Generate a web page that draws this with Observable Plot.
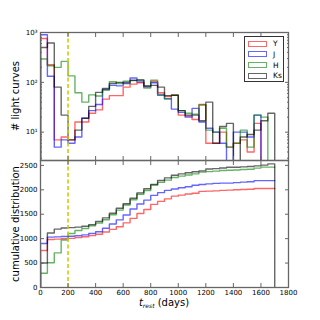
<!DOCTYPE html>
<html><head><meta charset="utf-8">
<script src="https://cdn.jsdelivr.net/npm/d3@7"></script>
<script src="https://cdn.jsdelivr.net/npm/@observablehq/plot@0.6"></script>
<style>
body{margin:0;background:#fff;}
#chart{position:relative;width:320px;height:320px;font-family:"DejaVu Sans",sans-serif;overflow:hidden;}
#chart svg{position:absolute;left:0;overflow:visible;}
.leg{position:absolute;left:244px;top:36px;width:40px;height:46px;border:1px solid #333;background:#fff;box-sizing:border-box;}
.row{position:absolute;left:2px;height:11px;width:38px;}
.patch{position:absolute;left:1px;top:2.5px;width:19px;height:6px;box-sizing:border-box;border:1.5px solid;}
.lab{position:absolute;left:26px;top:0px;font-size:7.5px;line-height:11px;color:#000;}
</style></head><body><div id="chart"></div>
<script>
// histogram bins (days), 50-day wide
const binStart = [0,50,100,150,200,250,300,350,400,450,500,550,600,650,700,750,800,850,900,950,1000,1050,1100,1150,1200,1250,1300,1350,1400,1450,1500,1550,1600,1650];
const binWidth = 50;
const bands = ["Y","J","H","Ks"];
const bandColors = ["red","blue","green","black"];
// counts per bin (# light curves)
const countsY  = [759,225,7,8,7,16,16,24,28,46,54,54,80,92,98,84,103,62,52,55,22,21,18,36,6,6,10,5,6,7,4,15,0,0];
const countsJ  = [900,132,5,7,6,8,19,27,36,72,87,85,100,122,102,81,98,55,47,29,25,20,30,16,12,10,6,0,10,10,8,22,0,0];
const countsH  = [293,215,200,263,135,62,40,56,53,70,103,95,105,108,110,77,110,57,46,55,27,24,23,35,11,10,12,5,6,11,5,22,20,0];
const countsKs = [501,615,80,22,7,11,19,33,63,75,95,100,95,110,112,85,87,80,54,55,27,22,22,17,40,6,13,15,0,8,9,11,17,24];
const xTicks = [0,200,400,600,800,1000,1200,1400,1600,1800];
const logTicks = [10,100,1000];
const logTickLabels = ["10¹","10²","10³"];
const cumTicks = [0,500,1000,1500,2000,2500];
const cutDay = 200;

const allCounts = {Y: countsY, J: countsJ, H: countsH, Ks: countsKs};
const logFloor = 1; // zero-count bins fall below the log axis and are clipped
const lastBand = bands[bands.length - 1];

function stepRows(band, values, base, closeRight) {
  const n = values.length;
  const rows = [{band, x: binStart[0], y: base}];
  values.forEach((v, i) => rows.push({band, x: binStart[i], y: v}));
  rows.push({band, x: binStart[n - 1] + binWidth, y: values[n - 1]});
  if (closeRight) rows.push({band, x: binStart[n - 1] + binWidth, y: base});
  return rows;
}
const histRows = bands.flatMap(b => stepRows(b, allCounts[b].map(v => Math.max(v, logFloor)), logFloor, true));
const cumRows = bands.flatMap(b => stepRows(b, Array.from(d3.cumsum(allCounts[b])), 0, b === lastBand));

const colorScale = {domain: bands, range: bandColors};
const spine = "#666";
const dashColor = "#cccc00";
const minorLog = [3,4,5,6,7,8,9,20,30,40,50,60,70,80,90,200,300,400,500,600,700,800,900];
const chart = document.getElementById("chart");
const common = {width: 320, height: 160, marginLeft: 40, marginRight: 32,
  style: {fontFamily: "DejaVu Sans, sans-serif", fontSize: "7px", color: "#000", background: "transparent"}};
const blank = () => "";

const topPlot = Plot.plot({
  ...common, marginTop: 32, marginBottom: 0,
  x: {domain: [0, 1800]},
  y: {type: "log", domain: [2.7, 1000]},
  color: colorScale,
  marks: [
    Plot.line(histRows, {x: "x", y: "y", z: "band", stroke: "band", curve: "step-after", strokeWidth: 1.4, strokeOpacity: 0.6, clip: true}),
    Plot.ruleX([cutDay], {stroke: dashColor, strokeWidth: 2, strokeDasharray: "4,2.5", strokeOpacity: 0.8}),
    Plot.axisX(xTicks, {anchor: "bottom", tickSize: -4, tickFormat: blank, stroke: spine, label: null}),
    Plot.axisX(xTicks, {anchor: "top", tickSize: -4, tickFormat: blank, stroke: spine, label: null}),
    Plot.axisY(logTicks, {anchor: "left", tickSize: -4, tickFormat: blank, stroke: spine, label: null}),
    Plot.axisY(logTicks, {anchor: "right", tickSize: -4, tickFormat: blank, stroke: spine, label: null}),
    Plot.axisY(minorLog, {anchor: "left", tickSize: -2, tickFormat: blank, stroke: spine, label: null}),
    Plot.axisY(minorLog, {anchor: "right", tickSize: -2, tickFormat: blank, stroke: spine, label: null}),
    Plot.axisY(logTicks, {anchor: "left", tickSize: 0, tickPadding: 3, tickFormat: d => logTickLabels[logTicks.indexOf(d)], label: null}),
    Plot.frame({stroke: spine, strokeWidth: 1.3})
  ]
});
topPlot.style.top = "0px";
chart.appendChild(topPlot);

const bottomPlot = Plot.plot({
  ...common, marginTop: 0, marginBottom: 33,
  x: {domain: [0, 1800]},
  y: {domain: [0, 2600]},
  color: colorScale,
  marks: [
    Plot.line(cumRows, {x: "x", y: "y", z: "band", stroke: "band", curve: "step-after", strokeWidth: 1.4, strokeOpacity: 0.6, clip: true}),
    Plot.ruleX([cutDay], {stroke: dashColor, strokeWidth: 2, strokeDasharray: "4,2.5", strokeOpacity: 0.8}),
    Plot.axisX(xTicks, {anchor: "bottom", tickSize: -4, tickFormat: blank, stroke: spine, label: null}),
    Plot.axisX(xTicks, {anchor: "top", tickSize: -4, tickFormat: blank, stroke: spine, label: null}),
    Plot.axisY(cumTicks, {anchor: "left", tickSize: -4, tickFormat: blank, stroke: spine, label: null}),
    Plot.axisY(cumTicks, {anchor: "right", tickSize: -4, tickFormat: blank, stroke: spine, label: null}),
    Plot.axisX(xTicks, {anchor: "bottom", tickSize: 0, tickPadding: 3, tickFormat: d => String(d), label: null}),
    Plot.axisY(cumTicks, {anchor: "left", tickSize: 0, tickPadding: 3, tickFormat: d => String(d), label: null}),
    Plot.frame({stroke: spine, strokeWidth: 1.3})
  ]
});
bottomPlot.style.top = "160px";
chart.appendChild(bottomPlot);

// axis titles
const ns = "http://www.w3.org/2000/svg";
const ov = document.createElementNS(ns, "svg");
ov.setAttribute("width", 320); ov.setAttribute("height", 320);
ov.style.top = "0px";
ov.innerHTML = `
<g font-family="DejaVu Sans, sans-serif" fill="#000">
<text transform="translate(19,96) rotate(-90)" text-anchor="middle" font-size="10">#&#160;light curves</text>
<text transform="translate(19,224) rotate(-90)" text-anchor="middle" font-size="10">cumulative distribution</text>
<text x="164" y="306" text-anchor="middle" font-size="10"><tspan font-style="italic">t</tspan><tspan font-style="italic" font-size="6" dy="2">rest</tspan><tspan dy="-2"> (days)</tspan></text>
</g>`;
chart.appendChild(ov);

// legend
const leg = document.createElement("div");
leg.className = "leg";
bands.forEach((b, i) => {
  const r = document.createElement("div");
  r.className = "row";
  r.style.top = (1 + i * 10.8) + "px";
  const p = document.createElement("div");
  p.className = "patch";
  p.style.borderColor = bandColors[i];
  p.style.opacity = 0.6;
  const t = document.createElement("div");
  t.className = "lab";
  t.textContent = b;
  r.appendChild(p); r.appendChild(t);
  leg.appendChild(r);
});
chart.appendChild(leg);
</script></body></html>
